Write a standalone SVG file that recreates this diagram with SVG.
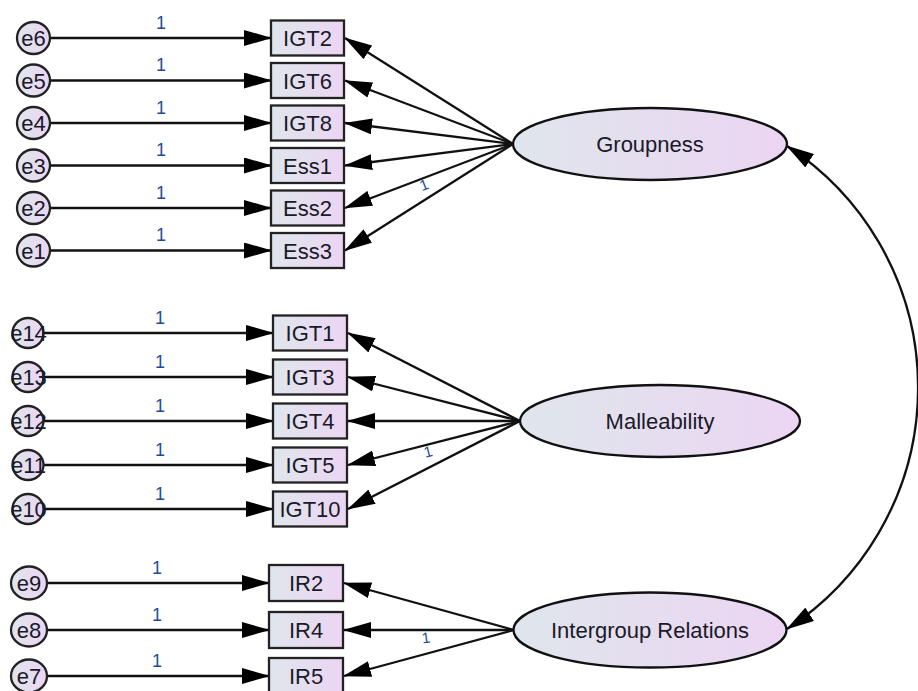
<svg xmlns="http://www.w3.org/2000/svg" width="918" height="691" viewBox="0 0 918 691">
<defs>
<linearGradient id="fill" x1="0" y1="0" x2="1" y2="0">
<stop offset="0" stop-color="#dfe6ec"/>
<stop offset="1" stop-color="#ecd5f3"/>
</linearGradient>
<marker id="ah" markerUnits="userSpaceOnUse" markerWidth="28" markerHeight="16" viewBox="0 0 28 16" refX="27" refY="8" orient="auto-start-reverse">
<path d="M0,0 L28,8 L0,16 z" fill="#000"/>
</marker>
<style>
.ln{stroke:#111;stroke-width:2.3;fill:none;marker-end:url(#ah)}
.cov{stroke:#111;stroke-width:2.3;fill:none;marker-start:url(#ah);marker-end:url(#ah)}
.box{fill:url(#fill);stroke:#222;stroke-width:2.3}
.lat{fill:url(#fill);stroke:#111;stroke-width:2.3}
.t{font-family:"Liberation Sans",Arial,sans-serif;font-size:22px;fill:#1a1a28;text-anchor:middle}
.one{font-family:"Liberation Sans",Arial,sans-serif;font-size:18px;fill:#1d4c96;text-anchor:middle}
.sm{font-family:"Liberation Sans",Arial,sans-serif;font-size:15px;fill:#1d4c96;text-anchor:middle}
</style>
</defs>
<rect width="918" height="691" fill="#fff"/>
<g id="connectors">
<path class="ln" d="M50,38 L271,38"/>
<path class="ln" d="M50,80.5 L271,80.5"/>
<path class="ln" d="M50,123 L271,123"/>
<path class="ln" d="M50,165.5 L271,165.5"/>
<path class="ln" d="M50,208 L271,208"/>
<path class="ln" d="M50,250.5 L271,250.5"/>
<path class="ln" d="M43.5,333 L273,333"/>
<path class="ln" d="M43.5,377 L273,377"/>
<path class="ln" d="M43.5,421 L273,421"/>
<path class="ln" d="M43.5,465 L273,465"/>
<path class="ln" d="M43.5,509 L273,509"/>
<path class="ln" d="M47,583 L269,583"/>
<path class="ln" d="M47,630 L269,630"/>
<path class="ln" d="M47,676 L269,676"/>
<path class="ln" d="M513,144 L345,38"/>
<path class="ln" d="M513,144 L345,80.5"/>
<path class="ln" d="M513,144 L345,123"/>
<path class="ln" d="M513,144 L345,165.5"/>
<path class="ln" d="M513,144 L345,208"/>
<path class="ln" d="M513,144 L345,250.5"/>
<path class="ln" d="M520,421 L348,333"/>
<path class="ln" d="M520,421 L348,377"/>
<path class="ln" d="M520,421 L348,421"/>
<path class="ln" d="M520,421 L348,465"/>
<path class="ln" d="M520,421 L348,509"/>
<path class="ln" d="M514,630 L344,583"/>
<path class="ln" d="M514,630 L344,630"/>
<path class="ln" d="M514,630 L344,676"/>
<path class="cov" d="M787,146 A288,288 0 0 1 787,629"/>
<text class="one" x="161" y="28.5">1</text>
<text class="one" x="161" y="71">1</text>
<text class="one" x="161" y="113.5">1</text>
<text class="one" x="161" y="156">1</text>
<text class="one" x="161" y="198.5">1</text>
<text class="one" x="161" y="241">1</text>
<text class="one" x="160" y="323.5">1</text>
<text class="one" x="160" y="367.5">1</text>
<text class="one" x="160" y="411.5">1</text>
<text class="one" x="160" y="455.5">1</text>
<text class="one" x="160" y="499.5">1</text>
<text class="one" x="157" y="574">1</text>
<text class="one" x="157" y="621">1</text>
<text class="one" x="157" y="667">1</text>
<text class="sm" transform="translate(424,185) rotate(-21)" y="5">1</text>
<text class="sm" transform="translate(428,452) rotate(-14)" y="5">1</text>
<text class="sm" transform="translate(426,638) rotate(-8)" y="5">1</text>
</g>
<g id="e6"><ellipse class="box" cx="33.5" cy="38" rx="16.5" ry="16"/><text class="t" x="33.5" y="46">e6</text></g>
<g id="e5"><ellipse class="box" cx="33.5" cy="80.5" rx="16.5" ry="16"/><text class="t" x="33.5" y="88.5">e5</text></g>
<g id="e4"><ellipse class="box" cx="33.5" cy="123" rx="16.5" ry="16"/><text class="t" x="33.5" y="131">e4</text></g>
<g id="e3"><ellipse class="box" cx="33.5" cy="165.5" rx="16.5" ry="16"/><text class="t" x="33.5" y="173.5">e3</text></g>
<g id="e2"><ellipse class="box" cx="33.5" cy="208" rx="16.5" ry="16"/><text class="t" x="33.5" y="216">e2</text></g>
<g id="e1"><ellipse class="box" cx="33.5" cy="250.5" rx="16.5" ry="16"/><text class="t" x="33.5" y="258.5">e1</text></g>
<g id="e14"><ellipse class="box" cx="28" cy="333" rx="15.5" ry="15"/><text class="t" x="28.5" y="341">e14</text></g>
<g id="e13"><ellipse class="box" cx="28" cy="377" rx="15.5" ry="15"/><text class="t" x="28.5" y="385">e13</text></g>
<g id="e12"><ellipse class="box" cx="28" cy="421" rx="15.5" ry="15"/><text class="t" x="28.5" y="429">e12</text></g>
<g id="e11"><ellipse class="box" cx="28" cy="465" rx="15.5" ry="15"/><text class="t" x="28.5" y="473">e11</text></g>
<g id="e10"><ellipse class="box" cx="28" cy="509" rx="15.5" ry="15"/><text class="t" x="28.5" y="517">e10</text></g>
<g id="e9"><ellipse class="box" cx="29" cy="583" rx="18" ry="16.5"/><text class="t" x="29" y="591">e9</text></g>
<g id="e8"><ellipse class="box" cx="29" cy="630" rx="18" ry="16.5"/><text class="t" x="29" y="638">e8</text></g>
<g id="e7"><ellipse class="box" cx="29" cy="676" rx="18" ry="16.5"/><text class="t" x="29" y="684">e7</text></g>
<g id="IGT2"><rect class="box" x="271" y="20.5" width="73" height="35"/><text class="t" x="307.5" y="46">IGT2</text></g>
<g id="IGT6"><rect class="box" x="271" y="63" width="73" height="35"/><text class="t" x="307.5" y="88.5">IGT6</text></g>
<g id="IGT8"><rect class="box" x="271" y="105.5" width="73" height="35"/><text class="t" x="307.5" y="131">IGT8</text></g>
<g id="Ess1"><rect class="box" x="271" y="148" width="73" height="35"/><text class="t" x="307.5" y="173.5">Ess1</text></g>
<g id="Ess2"><rect class="box" x="271" y="190.5" width="73" height="35"/><text class="t" x="307.5" y="216">Ess2</text></g>
<g id="Ess3"><rect class="box" x="271" y="233" width="73" height="35"/><text class="t" x="307.5" y="258.5">Ess3</text></g>
<g id="IGT1"><rect class="box" x="273" y="315.5" width="74" height="35"/><text class="t" x="310" y="341">IGT1</text></g>
<g id="IGT3"><rect class="box" x="273" y="359.5" width="74" height="35"/><text class="t" x="310" y="385">IGT3</text></g>
<g id="IGT4"><rect class="box" x="273" y="403.5" width="74" height="35"/><text class="t" x="310" y="429">IGT4</text></g>
<g id="IGT5"><rect class="box" x="273" y="447.5" width="74" height="35"/><text class="t" x="310" y="473">IGT5</text></g>
<g id="IGT10"><rect class="box" x="273" y="491.5" width="74" height="35"/><text class="t" x="310" y="517">IGT10</text></g>
<g id="IR2"><rect class="box" x="269" y="565" width="74" height="36"/><text class="t" x="306" y="591">IR2</text></g>
<g id="IR4"><rect class="box" x="269" y="612" width="74" height="36"/><text class="t" x="306" y="638">IR4</text></g>
<g id="IR5"><rect class="box" x="269" y="658" width="74" height="36"/><text class="t" x="306" y="684">IR5</text></g>
<g id="Groupness"><ellipse class="lat" cx="650" cy="144" rx="137" ry="36"/><text class="t" x="650" y="152">Groupness</text></g>
<g id="Malleability"><ellipse class="lat" cx="660" cy="421" rx="140" ry="36"/><text class="t" x="660" y="429">Malleability</text></g>
<g id="IntergroupRelations"><ellipse class="lat" cx="650" cy="630" rx="136.5" ry="37.5"/><text class="t" x="650" y="638">Intergroup Relations</text></g>
</svg>
